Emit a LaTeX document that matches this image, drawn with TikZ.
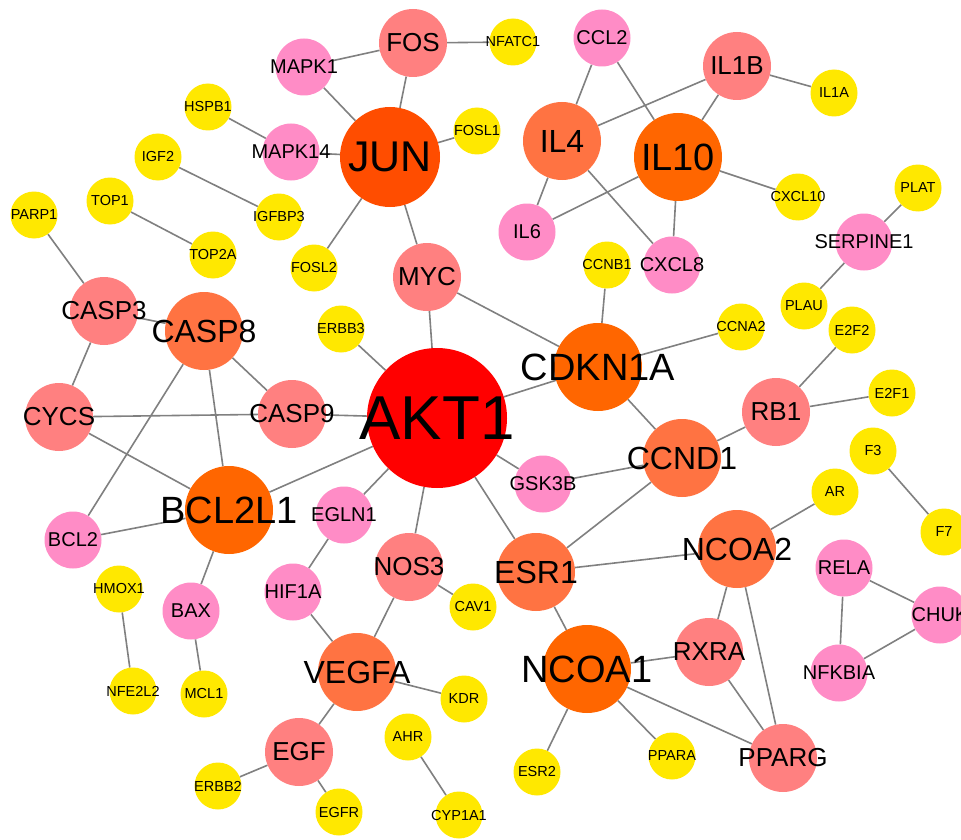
\documentclass[tikz,border=0pt]{standalone}
\usepackage{fontspec}
\setmainfont{Liberation Sans}
\usetikzlibrary{backgrounds}
\definecolor{hubred}{HTML}{FF0000}
\definecolor{hubdeep}{HTML}{FF4D00}
\definecolor{huborange}{HTML}{FF6600}
\definecolor{hublight}{HTML}{FF7342}
\definecolor{salmon}{HTML}{FF8080}
\definecolor{pinkish}{HTML}{FF8CC6}
\definecolor{leafyellow}{HTML}{FFE800}

\begin{document}
\begin{tikzpicture}[x=1pt,y=-1pt]
    \tikzstyle{gene}=[circle, draw=none, inner sep=0pt]
    \tikzstyle{link}=[draw=black!50, line width=1.6pt]
    \tikzstyle{leaf}=[gene, fill=leafyellow, minimum size=47pt]
    \tikzstyle{pinknode}=[gene, fill=pinkish, minimum size=57pt]
    \tikzstyle{salmonnode}=[gene, fill=salmon, minimum size=68pt]
    \tikzstyle{lightnode}=[gene, fill=hublight, minimum size=78pt]
    \tikzstyle{orangenode}=[gene, fill=huborange, minimum size=88pt]

    \useasboundingbox (0,0) rectangle (961,840);
    \clip (0,0) rectangle (961,840);

    % Draw the two biggest hubs
    \node[gene, fill=hubred, minimum size=140pt,
        label={[font=\fontsize{62}{62}\selectfont]center:AKT1}] (AKT1) at (437,418) {};
    \node[gene, fill=hubdeep, minimum size=100pt,
        label={[font=\fontsize{43}{43}\selectfont]center:JUN}] (JUN) at (390,157) {};

    % Draw the second and third ranked hubs
    \foreach \name/\x/\y in {IL10/678/157, CDKN1A/598/367, BCL2L1/229/510, NCOA1/587/669}
        \node[orangenode, label={[font=\fontsize{38}{38}\selectfont]center:\name}] (\name) at (\x,\y) {};

    \foreach \name/\x/\y in {IL4/562/141, CASP8/204/331, CCND1/682/458, ESR1/536/572,
                             NCOA2/737/549, VEGFA/357/672}
        \node[lightnode, label={[font=\fontsize{32}{32}\selectfont]center:\name}] (\name) at (\x,\y) {};

    % Draw the middle ranked nodes
    \foreach \name/\x/\y in {FOS/413/43, IL1B/737/66, MYC/427/277, CASP3/104/311, CYCS/59/417,
                             CASP9/292/414, RB1/776/412, NOS3/409/567, RXRA/709/652,
                             PPARG/783/758, EGF/299/752}
        \node[salmonnode, label={[font=\fontsize{26}{26}\selectfont]center:\name}] (\name) at (\x,\y) {};

    \foreach \name/\x/\y in {MAPK1/304/67, MAPK14/291/152, CCL2/602/38, IL6/527/232,
                             CXCL8/672/265, SERPINE1/864/242, BCL2/73/540, EGLN1/344/515,
                             GSK3B/543/484, HIF1A/293/592, BAX/191/611, RELA/844/568,
                             CHUK/940/615, NFKBIA/839/673}
        \node[pinknode, label={[font=\fontsize{20}{20}\selectfont]center:\name}] (\name) at (\x,\y) {};

    % Draw the leaf nodes
    \foreach \name/\x/\y in {NFATC1/513/42, HSPB1/208/107, FOSL1/477/131, IL1A/834/93,
                             IGF2/158/157, TOP1/110/201, IGFBP3/279/217, PARP1/34/215,
                             TOP2A/213/255, FOSL2/314/268, PLAT/918/188, CXCL10/798/197,
                             CCNB1/607/265, ERBB3/341/329, CCNA2/741/327, PLAU/804/306,
                             E2F2/852/330, E2F1/892/393, F3/873/451, AR/835/492, F7/944/532,
                             HMOX1/119/589, CAV1/473/607, NFE2L2/133/691, MCL1/204/694,
                             KDR/464/699, AHR/408/737, ESR2/537/772, PPARA/672/756,
                             ERBB2/218/786, EGFR/339/812, CYP1A1/459/815}
        \node[leaf, label={[font=\fontsize{14.5}{14.5}\selectfont]center:\name}] (\name) at (\x,\y) {};

    % Connect the interacting proteins behind the nodes
    \begin{pgfonlayer}{background}
        \fill[white] (0,0) rectangle (961,840);
        \foreach \source/\dest in {FOS/MAPK1, FOS/NFATC1, FOS/JUN, MAPK1/JUN, HSPB1/MAPK14,
                                   MAPK14/JUN, JUN/FOSL1, JUN/FOSL2, JUN/MYC, IGF2/IGFBP3,
                                   TOP1/TOP2A, PARP1/CASP3, CCL2/IL4, CCL2/IL10, IL1B/IL4,
                                   IL1B/IL10, IL1B/IL1A, IL4/IL6, IL4/CXCL8, IL10/IL6,
                                   IL10/CXCL8, IL10/CXCL10, PLAT/SERPINE1, SERPINE1/PLAU,
                                   CCNB1/CDKN1A, MYC/CDKN1A, MYC/AKT1, ERBB3/AKT1,
                                   CASP3/CASP8, CASP3/CYCS, CASP8/CASP9, CASP8/BCL2L1,
                                   CASP8/BCL2, CYCS/CASP9, CASP9/AKT1, CYCS/BCL2L1,
                                   BCL2L1/AKT1, BCL2L1/BCL2, BCL2L1/BAX, AKT1/CDKN1A,
                                   AKT1/GSK3B, AKT1/ESR1, AKT1/EGLN1, AKT1/NOS3,
                                   CDKN1A/CCNA2, CDKN1A/CCND1, CCND1/RB1, CCND1/GSK3B,
                                   CCND1/ESR1, RB1/E2F2, RB1/E2F1, F3/F7, AR/NCOA2,
                                   ESR1/NCOA2, ESR1/NCOA1, NCOA2/RXRA, NCOA2/PPARG,
                                   NCOA1/RXRA, NCOA1/PPARG, NCOA1/PPARA, NCOA1/ESR2,
                                   RXRA/PPARG, RELA/CHUK, RELA/NFKBIA, CHUK/NFKBIA,
                                   EGLN1/HIF1A, HIF1A/VEGFA, NOS3/VEGFA, NOS3/CAV1,
                                   VEGFA/KDR, VEGFA/EGF, EGF/ERBB2, EGF/EGFR, AHR/CYP1A1,
                                   HMOX1/NFE2L2, BAX/MCL1}
            \draw[link] (\source) -- (\dest);
    \end{pgfonlayer}
\end{tikzpicture}
\end{document}
